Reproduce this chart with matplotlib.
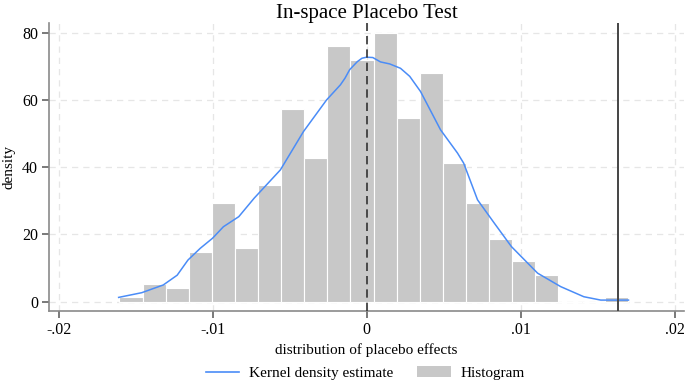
import numpy as np
import matplotlib
matplotlib.use("Agg")
import matplotlib.pyplot as plt
from matplotlib.lines import Line2D
from matplotlib.patches import Patch

plt.rcParams["font.family"] = ["Liberation Serif", "DejaVu Serif"]

# histogram (density), bins of width .0015 starting at the smallest placebo effect
bin_start = -0.01605
bin_width = 0.0015
hist_density = [1.3, 5.3, 4.0, 14.7, 29.3, 16.0, 34.7, 57.3, 42.7, 76.0, 72.0,
                80.0, 54.7, 68.0, 41.3, 29.3, 18.7, 12.0, 8.0, 0.0, 0.0, 1.3]

# kernel density estimate
kde_x = [-0.0161, -0.0146, -0.0132, -0.0123, -0.0116, -0.0108, -0.0100, -0.0093,
         -0.0083, -0.0073, -0.0056, -0.0041, -0.0026, -0.0017, -0.0014, -0.0011,
         -0.0006, -0.0003, 0.0000, 0.0004, 0.0009, 0.0015, 0.0022, 0.0028,
         0.0035, 0.0048, 0.0059, 0.0063, 0.0072, 0.0083, 0.0094, 0.0111,
         0.0126, 0.0141, 0.0152, 0.0170]
kde_y = [1.3, 2.7, 5.0, 7.9, 12.4, 15.9, 18.9, 22.3,
         25.3, 30.8, 39.2, 50.6, 60.0, 64.5, 66.5, 69.0,
         71.4, 72.4, 72.7, 72.6, 71.3, 70.7, 69.4, 67.0,
         62.5, 51.1, 44.2, 41.2, 30.3, 23.3, 16.4, 8.5,
         4.5, 1.5, 0.5, 0.5]

true_effect = 0.01634
x_ticks = [-0.02, -0.01, 0, 0.01, 0.02]
x_tick_labels = ["-.02", "-.01", "0", ".01", ".02"]
y_ticks = [0, 20, 40, 60, 80]

fig = plt.figure(figsize=(6.85, 3.88), dpi=100)
ax = fig.add_axes([0.072, 0.199, 0.926, 0.742])

edges = bin_start + bin_width * np.arange(len(hist_density))
ax.bar(edges, hist_density, width=bin_width, align="edge",
       color="#c8c8c8", edgecolor="white", linewidth=0.8, zorder=2)
ax.plot(kde_x, kde_y, color="#4a8cf7", linewidth=1.1, zorder=3)

ax.axvline(0, color="#333333", linestyle=(0, (5, 3)), linewidth=1.2, zorder=4)
ax.axvline(true_effect, color="#444444", linewidth=1.4, zorder=4)

ax.set_xlim(-0.0206, 0.02058)
ax.set_ylim(-2.68, 82.9)
ax.set_xticks(x_ticks)
ax.set_xticklabels(x_tick_labels)
ax.set_yticks(y_ticks)

ax.grid(True, color="#e6e6e6", linestyle=(0, (5, 4)), linewidth=0.9, zorder=0)
ax.set_axisbelow(True)
for s in ["top", "right"]:
    ax.spines[s].set_visible(False)
for s in ["left", "bottom"]:
    ax.spines[s].set_color("#8a8a8a")
    ax.spines[s].set_linewidth(1.2)
ax.tick_params(direction="out", length=5, width=1.1, color="#555555",
               labelsize=11.5, pad=3)

ax.set_title("In-space Placebo Test", fontsize=15, pad=2)
ax.set_xlabel("distribution of placebo effects", fontsize=11, labelpad=4)
ax.set_ylabel("density", fontsize=11)
ax.yaxis.set_label_coords(-0.053, 0.5)

handles = [Line2D([], [], color="#4a8cf7", linewidth=1.2),
           Patch(facecolor="#c8c8c8", edgecolor="none")]
fig.legend(handles, ["Kernel density estimate", "Histogram"], loc="lower center",
           bbox_to_anchor=(0.533, -0.015), ncol=2, frameon=False, fontsize=11,
           handlelength=2.2, handletextpad=0.6, columnspacing=1.6)

fig.savefig("out.png", dpi=100)
